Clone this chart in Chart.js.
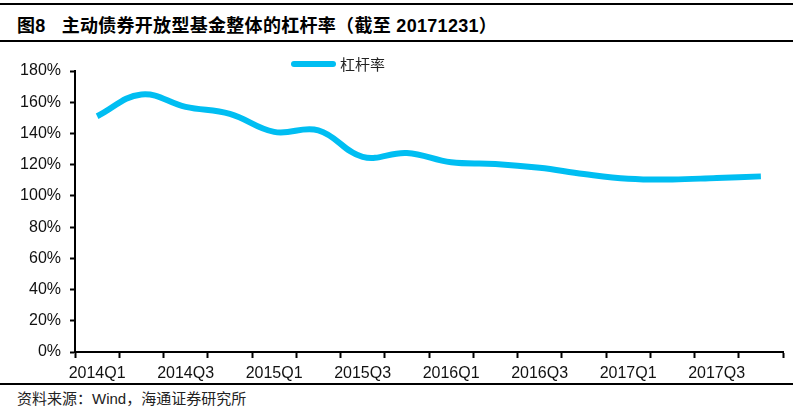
<!DOCTYPE html>
<html>
<head>
<meta charset="utf-8">
<script src="https://cdn.jsdelivr.net/npm/chart.js@4/dist/chart.umd.min.js"></script>
<style>
  body { margin: 0; width: 796px; height: 409px; background: #fff; position: relative; overflow: hidden; }
  .rule { position: absolute; left: 0; width: 793px; height: 2px; background: #000; }
  #title { position: absolute; left: 17px; top: 11px; font: bold 18px "Liberation Sans", "Noto Sans CJK SC", sans-serif; color: #000; white-space: pre; letter-spacing: 0.3px; }
  #title span { margin-right: 16px; }
  #source { position: absolute; left: 17px; top: 387px; font: 15px "Liberation Sans", "Noto Sans CJK SC", sans-serif; color: #222; white-space: pre; }
  #wrap { position: absolute; left: 0; top: 45px; width: 796px; height: 340px; }
</style>
</head>
<body>
<div class="rule" style="top:3px"></div>
<div id="title"><span>图8</span>主动债券开放型基金整体的杠杆率（截至 20171231）</div>
<div class="rule" style="top:40px"></div>
<div id="wrap"><canvas id="chart"></canvas></div>
<div class="rule" style="top:383px; height:1.5px"></div>
<div id="source">资料来源：Wind，海通证券研究所</div>

<script>
// quarters 2014Q1 .. 2017Q4
const quarters = ['2014Q1', '2014Q2', '2014Q3', '2014Q4',
                  '2015Q1', '2015Q2', '2015Q3', '2015Q4',
                  '2016Q1', '2016Q2', '2016Q3', '2016Q4',
                  '2017Q1', '2017Q2', '2017Q3', '2017Q4'];
// leverage, in percent
const leverage = [151, 165, 157, 152.5,
                  141, 142, 125, 127.5,
                  121.5, 120.5, 118, 114,
                  111, 110.5, 111.5, 112.5];
const seriesName = '杠杆率';
const yTicks = [0, 20, 40, 60, 80, 100, 120, 140, 160, 180];

const lineColor = '#00BEF2';
const tickFont = { family: '"Liberation Sans", Arial, sans-serif', size: 16 };

// legend drawn inside the top of the plot, as in the original
const legendPlugin = {
  id: 'insideLegend',
  afterDraw(chart) {
    const ctx = chart.ctx;
    const ds = chart.data.datasets[0];
    ctx.save();
    ctx.strokeStyle = ds.borderColor;
    ctx.lineWidth = 6;
    ctx.lineCap = 'round';
    ctx.beginPath();
    ctx.moveTo(294, 19);
    ctx.lineTo(333, 19);
    ctx.stroke();
    ctx.fillStyle = '#222';
    ctx.font = '15px "Noto Sans CJK SC", sans-serif';
    ctx.textBaseline = 'middle';
    ctx.fillText(ds.label, 340, 19);
    ctx.restore();
  }
};

new Chart(document.getElementById('chart'), {
  type: 'line',
  data: {
    labels: quarters,
    datasets: [{
      label: seriesName,
      data: leverage,
      borderColor: lineColor,
      borderWidth: 6,
      tension: 0.4,
      pointRadius: 0,
      fill: false
    }]
  },
  options: {
    responsive: true,
    maintainAspectRatio: false,
    animation: false,
    layout: { padding: { top: 26, right: 13, left: 0, bottom: 0 } },
    plugins: { legend: { display: false }, tooltip: { enabled: false } },
    scales: {
      x: {
        offset: true,
        afterFit(scale) { scale.height = 33; },
        grid: { offset: true, drawOnChartArea: false, drawTicks: true, tickLength: 6, tickWidth: 2, tickColor: '#000' },
        border: { display: true, color: '#000', width: 2 },
        ticks: {
          autoSkip: false,
          maxRotation: 0,
          padding: 6,
          color: '#111',
          font: tickFont,
          callback(v, i) { return i % 2 === 0 ? quarters[i] : ''; }
        }
      },
      y: {
        min: yTicks[0],
        max: yTicks[yTicks.length - 1],
        afterFit(scale) { scale.width = 75; },
        afterBuildTicks(scale) { scale.ticks = yTicks.map(v => ({ value: v })); },
        grid: { drawOnChartArea: false, drawTicks: true, tickLength: 5, tickWidth: 2, tickColor: '#000' },
        border: { display: true, color: '#000', width: 2 },
        ticks: {
          padding: 9,
          color: '#111',
          font: tickFont,
          callback(v) { return v + '%'; }
        }
      }
    }
  },
  plugins: [legendPlugin]
});
</script>
</body>
</html>
